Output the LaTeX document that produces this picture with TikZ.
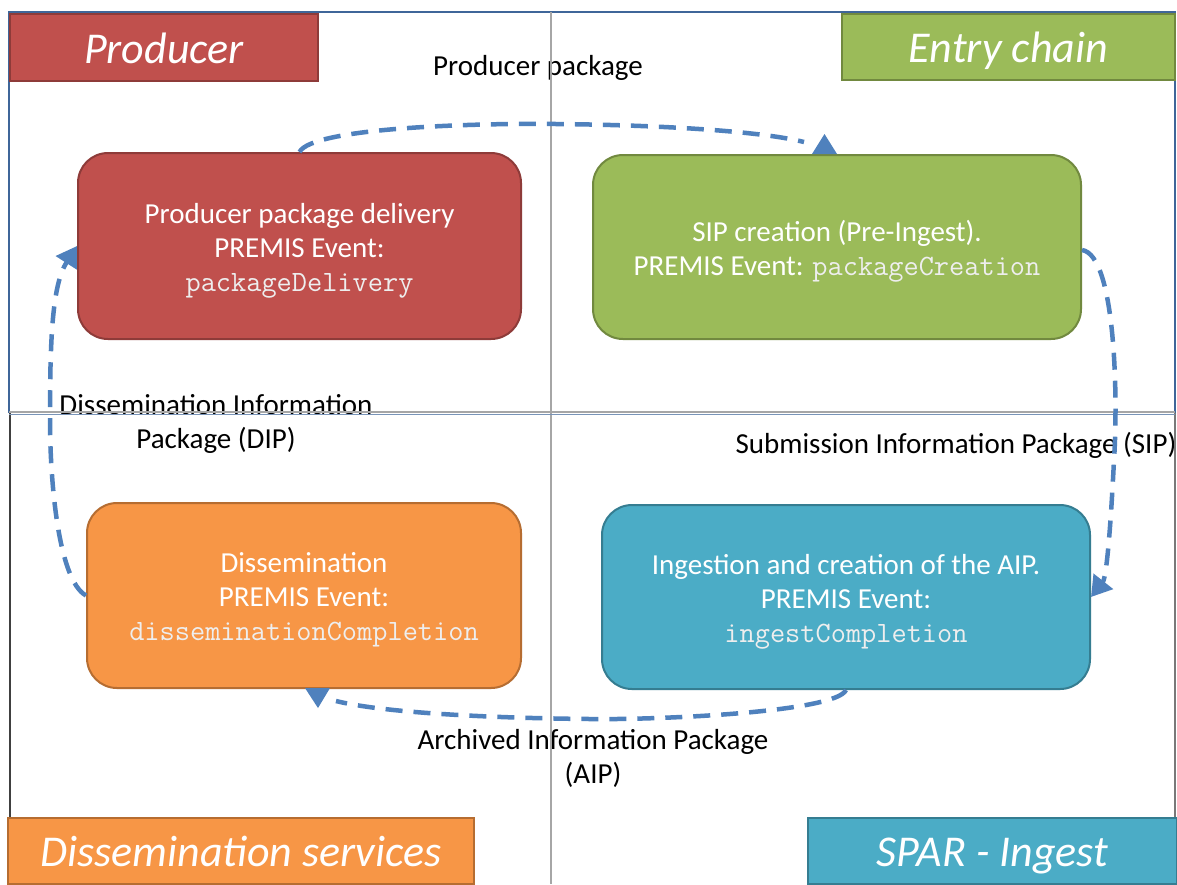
\documentclass[tikz,border=0pt]{standalone}
\usepackage{fontspec}
\setmainfont{Carlito}
\usetikzlibrary{arrows.meta}
\definecolor{redF}{HTML}{C0504D}
\definecolor{redD}{HTML}{8E3B39}
\definecolor{grnF}{HTML}{9BBB59}
\definecolor{grnD}{HTML}{71893F}
\definecolor{orgF}{HTML}{F79646}
\definecolor{orgD}{HTML}{B66D31}
\definecolor{bluF}{HTML}{4BACC6}
\definecolor{bluD}{HTML}{357D91}
\definecolor{arrC}{HTML}{4F81BD}
\definecolor{frameB}{HTML}{3F6699}
\definecolor{frameK}{HTML}{404040}
\definecolor{midG}{HTML}{A6A6A6}
\definecolor{monoC}{HTML}{EEEEEE}
\newcommand{\evname}[1]{{\fontsize{29.5}{34}\ttfamily\color{monoC}#1}}
\newcommand{\topstrut}{\rule{0pt}{29pt}}
\begin{document}
\begin{tikzpicture}[x=1pt,y=-1pt,
  titlebox/.style={rectangle, line width=2pt, inner sep=0pt, text=white,
    text height=31pt, text depth=0pt,
    font=\fontsize{44}{50}\selectfont\itshape},
  stagebox/.style={rectangle, rounded corners=30pt, line width=2pt, inner sep=0pt,
    text=white, align=center, font=\fontsize{29}{34}\selectfont},
  lbl/.style={align=center, inner sep=0pt, font=\fontsize{29}{34}\selectfont},
  flow/.style={draw=arrC, line width=4.5pt, dash pattern=on 17pt off 11pt},
  tipflow/.style={flow, -{Triangle[length=20pt,width=24pt]}}]
\useasboundingbox (0,0) rectangle (1177,884);
\fill[white] (0,0) rectangle (1177,884);

% labels
\node[lbl] (lpp) at (538,68) {Producer package};
\node[lbl] (ldip) at (216,424) {Dissemination Information\\Package (DIP)};
\node[lbl] (lsip) at (956,445) {Submission Information Package (SIP)};
\node[lbl] (laip) at (593,758) {Archived Information Package\\(AIP)};

% frame
\draw[frameB, line width=2pt] (9,413) -- (9,12) -- (1175,12) -- (1175,413);
\draw[frameK, line width=2pt] (10,413) -- (10,884);
\draw[frameK!70, line width=2pt] (1175,413) -- (1175,884);
\draw[midG, line width=2.5pt] (551,12) -- (551,884);
\draw[midG, line width=2.5pt] (9,412) -- (1175,412);
\draw[frameB!70, line width=1pt] (9,414) -- (1175,414);

% stage boxes
\node[stagebox, fill=redF, draw=redD, minimum width=443pt, minimum height=186pt] (prod) at (299.5,246)
  {\topstrut Producer package delivery\\PREMIS Event:\\\evname{packageDelivery}};
\node[stagebox, fill=grnF, draw=grnD, minimum width=488pt, minimum height=184pt] (sip) at (837,247)
  {\topstrut SIP creation (Pre-Ingest).\\PREMIS Event: \evname{packageCreation}};
\node[stagebox, fill=orgF, draw=orgD, minimum width=434pt, minimum height=185pt] (dis) at (304,595.5)
  {\topstrut Dissemination\\PREMIS Event:\\\evname{disseminationCompletion}};
\node[stagebox, fill=bluF, draw=bluD, minimum width=488pt, minimum height=184pt] (ing) at (846,597)
  {\topstrut Ingestion and creation of the AIP.\\PREMIS Event:\\\evname{ingestCompletion}};

% title boxes
\node[titlebox, fill=redF, draw=redD, minimum width=308pt, minimum height=67pt] (tprod) at (164,47.5) {Producer};
\node[titlebox, fill=grnF, draw=grnD, minimum width=333pt, minimum height=66pt] (tent) at (1008.5,47) {Entry chain};
\node[titlebox, fill=orgF, draw=orgD, minimum width=466pt, minimum height=66pt] (tdis) at (241,851) {Dissemination services};
\node[titlebox, fill=bluF, draw=bluD, minimum width=369pt, minimum height=66pt] (ting) at (992.5,851) {SPAR - Ingest};

% connectors
\coordinate (topEnd) at (804,142);
\draw[flow] (prod.north) .. controls (312,128) and (470,123) .. (556,124)
  .. controls (660,125) and (760,131) .. (topEnd);
\fill[arrC] (812,154) -- (837,154) -- (824.5,134) -- cycle;

\draw[tipflow] ([yshift=-3pt]sip.east) .. controls (1116,255) and (1118,400) .. (1114,460)
  .. controls (1110,540) and (1106,578) .. (ing.east);

\coordinate (botEnd) at (336,701);
\draw[flow] (ing.south) .. controls (836,712) and (660,720) .. (590,719)
  .. controls (480,718) and (380,712) .. (botEnd);
\fill[arrC] (305,688) -- (330,688) -- (318,708) -- cycle;

\draw[tipflow] (dis.west) .. controls (58,580) and (50,480) .. (50,420)
  .. controls (50,340) and (52,285) .. (prod.west);
\end{tikzpicture}
\end{document}
